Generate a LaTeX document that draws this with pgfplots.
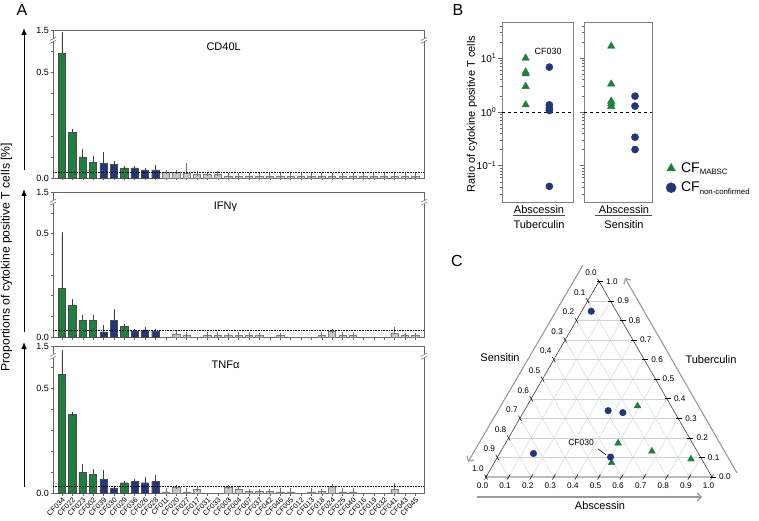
\documentclass[border=0pt]{standalone}
\usepackage{fontspec}
\setmainfont{Liberation Sans}
\usepackage{pgfplots}
\pgfplotsset{compat=1.18}
\usetikzlibrary{arrows.meta}
\definecolor{cgreen}{HTML}{1F7F40}
\definecolor{cblue}{HTML}{253579}
\definecolor{cgrey}{HTML}{C6C6C6}
\newcommand{\lsub}[1]{\raisebox{-2.2pt}{\fontsize{7.8}{9}\selectfont #1}}
\pgfplotsset{
 barpanel/.style={
  scale only axis, width=371pt, xmin=-0.85, xmax=34.85, ymin=0, ymax=0.7,
  axis line style={draw=black!60},
  ytick={0,0.1,0.2,0.3,0.4,0.5,0.6,0.7},
  yticklabels={0.0,,,,,0.5,,1.5},
  xtick={0,...,34}, xticklabels={},
  tick align=outside, tick pos=left, major tick length=2.5pt,
  tick style={black!60},
  yticklabel style={font=\fontsize{9}{10}\selectfont, inner sep=1.5pt},
  clip=false,
 },
 gbar/.style={ybar, bar shift=0pt, bar width=7.3pt, fill=cgreen, draw=black!70, line width=0.4pt,
  error bars/.cd, y dir=plus, y explicit, error bar style={line width=0.5pt, black!75},
  error mark options={black!75, mark size=2.2pt, line width=0.5pt}},
 bbar/.style={ybar, bar shift=0pt, bar width=7.3pt, fill=cblue, draw=black!70, line width=0.4pt,
  error bars/.cd, y dir=plus, y explicit, error bar style={line width=0.5pt, black!75},
  error mark options={black!75, mark size=2.2pt, line width=0.5pt}},
 ybarg/.style={ybar, bar shift=0pt, bar width=7.3pt, fill=cgrey, draw=black!50, line width=0.4pt,
  error bars/.cd, y dir=plus, y explicit, error bar style={line width=0.5pt, black!55},
  error mark options={black!55, mark size=2.2pt, line width=0.5pt}},
}
\newcommand{\breakmarks}{%
 \fill[white] ([shift={(-4pt,-2pt)}]rel axis cs:0,0.93) rectangle ([shift={(4pt,2pt)}]rel axis cs:0,0.93);
 \draw[black!60,line width=0.5pt] ([shift={(-3pt,-3pt)}]rel axis cs:0,0.93) -- ++(6pt,3pt);
 \draw[black!60,line width=0.5pt] ([shift={(-3pt,0pt)}]rel axis cs:0,0.93) -- ++(6pt,3pt);
 \fill[white] ([shift={(-4pt,-2pt)}]rel axis cs:1,0.93) rectangle ([shift={(4pt,2pt)}]rel axis cs:1,0.93);
 \draw[black!60,line width=0.5pt] ([shift={(-3pt,-3pt)}]rel axis cs:1,0.93) -- ++(6pt,3pt);
 \draw[black!60,line width=0.5pt] ([shift={(-3pt,0pt)}]rel axis cs:1,0.93) -- ++(6pt,3pt);
}
\begin{document}
\begin{tikzpicture}
\useasboundingbox (0,0) rectangle (759pt,-521pt);

% ---------------- Panel A ----------------
\node[font=\fontsize{16}{18}\selectfont] at (22pt,-10pt) {A};
\node[rotate=90, font=\fontsize{12.2}{14}\selectfont] at (6.5pt,-257pt) {Proportions of cytokine positive T cells [\%]};
\draw[-{Latex[length=7pt,width=5.5pt]}, line width=0.8pt] (24pt,-170pt) -- (24pt,-28pt);
\draw[-{Latex[length=7pt,width=5.5pt]}, line width=0.8pt] (24pt,-332pt) -- (24pt,-189pt);
\draw[-{Latex[length=7pt,width=5.5pt]}, line width=0.8pt] (24pt,-487pt) -- (24pt,-342pt);

% CD40L
\begin{axis}[barpanel, at={(53pt,-178pt)}, anchor=south west, height=148pt]
\addplot[gbar] coordinates {(0,0.59) +- (0,0.09) (1,0.216) +- (0,0.005) (2,0.100) +- (0,0.028) (3,0.073) +- (0,0.021) (6,0.048) +- (0,0)};
\addplot[bbar] coordinates {(4,0.069) +- (0,0.043) (5,0.064) +- (0,0.006) (7,0.048) +- (0,0) (8,0.038) +- (0,0) (9,0.038) +- (0,0.015)};
\addplot[ybarg] coordinates {(10,0.027) +- (0,0.002) (11,0.027) +- (0,0.002) (12,0.024) +- (0,0.035) (13,0.018) +- (0,0.003) (14,0.016) +- (0,0.002) (15,0.018) +- (0,0.004)
 (16,0.009) +- (0,0.002) (17,0.009) +- (0,0.002) (18,0.009) +- (0,0.002) (19,0.009) +- (0,0.002) (20,0.009) +- (0,0.002) (21,0.009) +- (0,0.002) (22,0.009) +- (0,0.002)
 (23,0.009) +- (0,0.002) (24,0.009) +- (0,0.002) (25,0.009) +- (0,0.002) (26,0.009) +- (0,0.002) (27,0.009) +- (0,0.002) (28,0.009) +- (0,0.002) (29,0.009) +- (0,0.002)
 (30,0.009) +- (0,0.002) (31,0.009) +- (0,0.002) (32,0.009) +- (0,0.002) (33,0.009) +- (0,0.002) (34,0.009) +- (0,0.002)};
\addplot[black, densely dotted, line width=0.6pt] coordinates {(-0.85,0.029) (34.85,0.029)};
\node[font=\fontsize{11}{12}\selectfont] at (rel axis cs:0.46,0.885) {CD40L};
\breakmarks
\end{axis}

% IFNg
\begin{axis}[barpanel, at={(53pt,-337pt)}, anchor=south west, height=145pt]
\addplot[gbar] coordinates {(0,0.234) +- (0,0.264) (1,0.154) +- (0,0.021) (2,0.080) +- (0,0.014) (3,0.080) +- (0,0.014) (6,0.051) +- (0,0)};
\addplot[bbar] coordinates {(4,0.025) +- (0,0.021) (5,0.080) +- (0,0.043) (7,0.029) +- (0,0) (8,0.035) +- (0,0.005) (9,0.030) +- (0,0)};
\addplot[ybarg] coordinates {(11,0.013) +- (0,0.009) (12,0.008) +- (0,0.004) (14,0.008) +- (0,0.004) (15,0.008) +- (0,0.004) (16,0.008) +- (0,0) (17,0.008) +- (0,0.004)
 (18,0.008) +- (0,0.004) (19,0.008) +- (0,0) (21,0.008) +- (0,0) (25,0.008) +- (0,0.004) (26,0.030) +- (0,0) (27,0.008) +- (0,0.004) (28,0.008) +- (0,0.004)
 (32,0.016) +- (0,0.021) (33,0.010) +- (0,0) (34,0.010) +- (0,0)};
\addplot[black, densely dotted, line width=0.6pt] coordinates {(-0.85,0.030) (34.85,0.030)};
\node[font=\fontsize{11}{12}\selectfont] at (rel axis cs:0.465,0.9) {IFNγ};
\breakmarks
\end{axis}

% TNFa
\begin{axis}[barpanel, at={(53pt,-493pt)}, anchor=south west, height=147pt,
  xticklabels={CF034,CF022,CF023,CF002,CF039,CF030,CF029,CF036,CF026,CF028,CF011,CF020,CF027,CF017,CF031,CF033,CF003,CF004,CF007,CF037,CF042,CF046,CF005,CF012,CF013,CF018,CF024,CF025,CF040,CF016,CF019,CF032,CF041,CF043,CF045},
  xticklabel style={rotate=45, anchor=north east, font=\fontsize{7.3}{8}\selectfont, inner sep=0.8pt}]
\addplot[gbar] coordinates {(0,0.564) +- (0,0.106) (1,0.376) +- (0,0) (2,0.099) +- (0,0.028) (3,0.089) +- (0,0.013) (6,0.049) +- (0,0)};
\addplot[bbar] coordinates {(4,0.065) +- (0,0.034) (5,0.025) +- (0,0) (7,0.054) +- (0,0.004) (8,0.049) +- (0,0.018) (9,0.054) +- (0,0.022)};
\addplot[ybarg] coordinates {(10,0.006) +- (0,0.006) (11,0.030) +- (0,0) (12,0.006) +- (0,0.005) (13,0.016) +- (0,0.005) (16,0.030) +- (0,0) (17,0.018) +- (0,0.005)
 (18,0.008) +- (0,0) (19,0.008) +- (0,0) (20,0.008) +- (0,0) (21,0.006) +- (0,0.006) (22,0.006) +- (0,0.006) (24,0.006) +- (0,0.006) (25,0.010) +- (0,0)
 (26,0.033) +- (0,0) (27,0.006) +- (0,0.006) (28,0.006) +- (0,0.006) (32,0.016) +- (0,0.021)};
\addplot[black, densely dotted, line width=0.6pt] coordinates {(-0.85,0.033) (34.85,0.033)};
\node[font=\fontsize{11}{12}\selectfont] at (rel axis cs:0.465,0.87) {TNFα};
\breakmarks
\end{axis}

% ---------------- Panel B ----------------
\node[font=\fontsize{16}{18}\selectfont] at (458pt,-10pt) {B};
\node[rotate=90, font=\fontsize{11}{12}\selectfont] at (472pt,-114pt) {Ratio of cytokine positive T cells};
\begin{semilogyaxis}[at={(502pt,-202pt)}, anchor=south west, scale only axis, width=71pt, height=180pt,
  ymin=0.021, ymax=47, xmin=0, xmax=3,
  xtick=\empty, ytick={0.1,1,10},
  minor ytick={0.03,0.04,0.05,0.06,0.07,0.08,0.09,0.2,0.3,0.4,0.5,0.6,0.7,0.8,0.9,2,3,4,5,6,7,8,9,20,30,40},
  ytick pos=left, tick align=outside, major tick length=4pt, minor tick length=2pt,
  axis line style={black!50}, tick style={black!60},
  yticklabel style={font=\fontsize{10}{11}\selectfont, inner sep=1.5pt}, clip=false,
  yticklabels={10\textsuperscript{−1},10\textsuperscript{0},10\textsuperscript{1}}]
\addplot[only marks, mark=triangle*, mark size=4.3pt, color=cgreen] coordinates {(1,10) (1,5.5) (1,5.1) (1,2.97) (1,1.35)};
\addplot[only marks, mark=*, mark size=3.6pt, color=cblue] coordinates {(2,6.8) (2,1.35) (2,1.17) (2,1.06) (2,0.041)};
\addplot[black, dashed, line width=0.6pt] coordinates {(0,1) (3,1)};
\node[font=\fontsize{9}{10}\selectfont] at (axis cs:1.95,13.6) {CF030};
\end{semilogyaxis}
\begin{semilogyaxis}[at={(584pt,-202pt)}, anchor=south west, scale only axis, width=68pt, height=180pt,
  ymin=0.021, ymax=47, xmin=0, xmax=3,
  xtick=\empty, ytick={0.1,1,10},
  minor ytick={0.03,0.04,0.05,0.06,0.07,0.08,0.09,0.2,0.3,0.4,0.5,0.6,0.7,0.8,0.9,2,3,4,5,6,7,8,9,20,30,40},
  ytick pos=left, tick align=outside, major tick length=4pt, minor tick length=2pt,
  axis line style={black!50}, tick style={black!60}, clip=false,
  yticklabels={},
  legend style={at={(1.19,0.133)}, anchor=west, draw=none, fill=none, font=\fontsize{14}{15}\selectfont, row sep=4pt, inner sep=1pt,
    /tikz/every odd column/.append style={column sep=3pt}},
  legend image post style={mark size=5pt},
  legend cell align=left]
\addplot[only marks, mark=triangle*, mark size=4.3pt, color=cgreen] coordinates {(1.2,16.7) (1.2,3.3) (1.2,1.58) (1.2,1.41) (1.2,1.26)};
\addlegendentry{CF\lsub{MABSC}}
\addplot[only marks, mark=*, mark size=3.6pt, color=cblue] coordinates {(2.25,1.96) (2.25,1.28) (2.25,0.337) (2.25,0.199)};
\addlegendentry{CF\lsub{non-confirmed}}
\addplot[black, dashed, line width=0.6pt, forget plot] coordinates {(0,1) (3,1)};
\end{semilogyaxis}
% fraction labels under panel B
\node[font=\fontsize{11}{12}\selectfont] at (539pt,-210pt) {Abscessin};
\draw[black!70, line width=0.6pt] (513pt,-215.5pt) -- (565pt,-215.5pt);
\node[font=\fontsize{11}{12}\selectfont] at (539pt,-224.5pt) {Tuberculin};
\node[font=\fontsize{11}{12}\selectfont] at (624pt,-210pt) {Abscessin};
\draw[black!70, line width=0.6pt] (595pt,-215.5pt) -- (652pt,-215.5pt);
\node[font=\fontsize{11}{12}\selectfont] at (624pt,-224.5pt) {Sensitin};

% ---------------- Panel C ----------------
\node[font=\fontsize{16}{18}\selectfont] at (457pt,-261pt) {C};
\begin{scope}[shift={(486pt,-477pt)}, x=226pt, y=226pt]
 \foreach \k in {1,...,9} {
  \pgfmathsetmacro\v{\k/10}
  \pgfmathsetmacro\ax{\v/2}
  \pgfmathsetmacro\ay{\v*0.866}
  \pgfmathsetmacro\bx{1-\v/2}
  \pgfmathsetmacro\cx{\v+(1-\v)/2}
  \pgfmathsetmacro\cy{(1-\v)*0.866}
  \pgfmathsetmacro\dx{1-\v}
  \pgfmathsetmacro\ex{(1-\v)/2}
  \draw[black!18, line width=0.4pt] (\ax,\ay) -- (\bx,\ay);
  \draw[black!18, line width=0.4pt] (\v,0) -- (\cx,\cy);
  \draw[black!18, line width=0.4pt] (\dx,0) -- (\ex,\cy);
 }
 \draw[black!75, line width=0.6pt] (0,0) -- (1,0) -- (0.5,0.866) -- cycle;
 \foreach \k in {0,...,10} {
  \pgfmathsetmacro\v{\k/10}
  \pgfmathsetmacro\rx{1-\v/2}
  \pgfmathsetmacro\ry{\v*0.866}
  \pgfmathsetmacro\lx{(1-\v)/2}
  \pgfmathsetmacro\ly{(1-\v)*0.866}
  \def\lab{\ifnum\k=10 1.0\else 0.\k\fi}
  \draw[black, line width=0.5pt] ([shift={(1.5pt,2.6pt)}]\v,0) -- ++(-3pt,-5.2pt);
  \node[font=\fontsize{8.2}{9}\selectfont, inner sep=0pt] at ([shift={(-3.5pt,-9pt)}]\v,0) {\lab};
  \draw[black, line width=0.5pt] ([xshift=-2pt]\rx,\ry) -- ++(6pt,0);
  \node[font=\fontsize{8.2}{9}\selectfont, anchor=west, inner sep=0pt] at ([xshift=7pt]\rx,\ry) {\lab};
  \draw[black, line width=0.5pt] ([shift={(1.5pt,-2.6pt)}]\lx,\ly) -- ++(-3pt,5.2pt);
  \node[font=\fontsize{8.2}{9}\selectfont, inner sep=0pt] at ([shift={(-8pt,8.5pt)}]\lx,\ly) {\lab};
 }
\end{scope}
\draw[black!40, line width=1.1pt, -{Straight Barb[length=4pt,width=8pt]}] (583pt,-265pt) -- (468pt,-462pt);
\draw[black!40, line width=1.1pt, -{Straight Barb[length=4pt,width=8pt]}] (737pt,-473pt) -- (625pt,-278pt);
\draw[black!40, line width=1.1pt, -{Straight Barb[length=4pt,width=8pt]}] (477pt,-497pt) -- (702pt,-497pt);
\node[font=\fontsize{11}{12}\selectfont] at (500pt,-358pt) {Sensitin};
\node[font=\fontsize{11}{12}\selectfont] at (711pt,-360pt) {Tuberculin};
\node[font=\fontsize{11}{12}\selectfont] at (600pt,-506pt) {Abscessin};
\node[font=\fontsize{8.5}{9}\selectfont] at (581pt,-443pt) {CF030};
\draw[black, line width=0.6pt] (598pt,-449pt) -- (606pt,-455pt);
\begin{axis}[at={(486pt,-477pt)}, anchor=south west, scale only axis, width=226pt, height=195.7pt,
  xmin=0, xmax=1, ymin=0, ymax=0.866, hide axis, clip=false]
\addplot[only marks, mark=triangle*, mark size=3.9pt, color=cgreen] table[row sep=\\, x expr=\thisrow{A}+0.5*\thisrow{T}, y expr=0.866*\thisrow{T}] {
A T S\\
0.489 0.363 0.148\\
0.498 0.173 0.329\\
0.668 0.132 0.200\\
0.861 0.0915 0.0475\\
0.519 0.073 0.408\\
};
\addplot[only marks, mark=*, mark size=3.3pt, color=cblue] table[row sep=\\, x expr=\thisrow{A}+0.5*\thisrow{T}, y expr=0.866*\thisrow{T}] {
A T S\\
0.042 0.847 0.111\\
0.371 0.339 0.290\\
0.441 0.329 0.230\\
0.500 0.102 0.398\\
0.150 0.120 0.730\\
};
\end{axis}
\end{tikzpicture}
\end{document}
